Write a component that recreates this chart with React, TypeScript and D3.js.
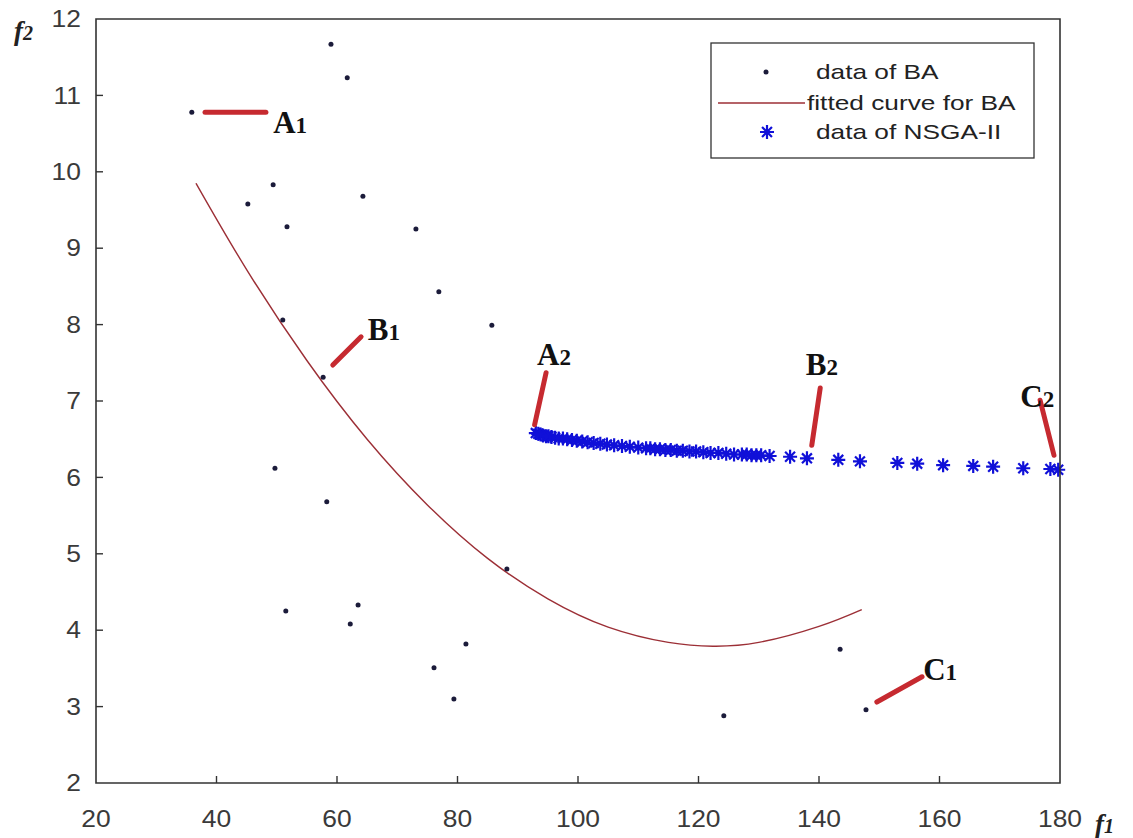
import React from "react";
import * as d3 from "d3";

// ---- Data ----
const baX = [35.9, 59.0, 61.7, 49.4, 45.2, 51.7, 64.3, 73.1, 76.9, 85.7, 51.0, 57.7, 49.7, 58.3, 88.2, 51.5, 63.5, 62.2, 81.4, 76.1, 79.4, 143.5, 147.8, 124.2];
const baY = [10.78, 11.67, 11.23, 9.83, 9.58, 9.28, 9.68, 9.25, 8.43, 7.99, 8.06, 7.31, 6.12, 5.68, 4.80, 4.25, 4.33, 4.08, 3.82, 3.51, 3.10, 3.75, 2.96, 2.88];

const curveX = [36.6, 45, 55, 65, 75, 85, 95, 105, 115, 122.4, 130, 140, 147.1];
const curveY = [9.85, 8.72, 7.53, 6.50, 5.64, 4.94, 4.41, 4.04, 3.84, 3.79, 3.84, 4.05, 4.27];

const nsgaX = [93.0, 93.4, 93.8, 94.2, 94.7, 95.1, 95.6, 96.2, 96.8, 97.5, 98.2, 99.0, 99.8, 100.7, 101.6, 102.6, 103.7, 104.8, 106.0, 107.3, 108.6, 110.0, 111.3, 112.0, 112.8, 113.6, 114.5, 115.4, 116.4, 117.4, 118.5, 119.6, 120.8, 122.0, 123.3, 124.6, 125.9, 127.2, 128.0, 128.8, 129.6, 130.4, 131.8,
  135.2, 138.0, 143.2, 146.8, 153.0, 156.3, 160.6, 165.6, 168.9, 173.9, 178.4, 179.7];
const nsgaY = [6.58, 6.57, 6.56, 6.55, 6.54, 6.54, 6.53, 6.52, 6.51, 6.51, 6.50, 6.49, 6.48, 6.47, 6.46, 6.45, 6.44, 6.43, 6.42, 6.41, 6.40, 6.39, 6.38, 6.38, 6.37, 6.37, 6.36, 6.36, 6.35, 6.35, 6.34, 6.34, 6.33, 6.32, 6.32, 6.31, 6.30, 6.30, 6.30, 6.29, 6.29, 6.29, 6.28,
  6.27, 6.25, 6.23, 6.21, 6.19, 6.18, 6.16, 6.15, 6.14, 6.12, 6.11, 6.10];

const xTicks = [20, 40, 60, 80, 100, 120, 140, 160, 180];
const yTicks = [2, 3, 4, 5, 6, 7, 8, 9, 10, 11, 12];

const annLetters = ["A", "B", "C", "A", "B", "C"];
const annSubs = ["1", "1", "1", "2", "2", "2"];
const annX1 = [38.1, 59.3, 149.6, 92.8, 138.8, 179.0];
const annY1 = [10.78, 7.47, 3.06, 6.69, 6.42, 6.29];
const annX2 = [48.2, 64.0, 157.1, 94.7, 140.2, 176.7];
const annY2 = [10.78, 7.84, 3.39, 7.37, 7.17, 7.01];
const annLX = [49.4, 65.1, 157.3, 93.2, 137.8, 173.4];
const annLY = [10.51, 7.80, 3.35, 7.47, 7.34, 6.92];

const legendLabels = ["data of BA", "fitted curve for BA", "data of NSGA-II"];

const W = 1133;
const H = 838;

function asterisk(cx: number, cy: number, r: number) {
  const d = r * Math.SQRT1_2;
  return `M${cx - r},${cy}L${cx + r},${cy}M${cx},${cy - r}L${cx},${cy + r}M${cx - d},${cy - d}L${cx + d},${cy + d}M${cx - d},${cy + d}L${cx + d},${cy - d}`;
}

export default function App() {
  const x = d3.scaleLinear().domain([20, 180]).range([96, 1060]);
  const y = d3.scaleLinear().domain([2, 12]).range([783, 19]);

  const curvePts: [number, number][] = curveX.map((v, i) => [v, curveY[i]]);
  const line = d3
    .line<[number, number]>()
    .x((d) => x(d[0]))
    .y((d) => y(d[1]))
    .curve(d3.curveNatural);

  const tickFont = "Liberation Sans, Arial, sans-serif";
  const serif = "Liberation Serif, Times New Roman, serif";
  const red = "#c62a30";
  const blue = "#1010d8";
  const curveColor = "#9c2f36";
  const dotColor = "#1b1b3a";
  const sx = 1.15;

  const x0 = x.range()[0], x1 = x.range()[1];
  const y0 = y.range()[0], y1 = y.range()[1];

  // legend box
  const lgL = 711, lgR = 1034, lgT = 43, lgB = 158;
  const rowY = [72, 103, 132];

  return (
    <svg width={W} height={H} style={{ position: "absolute", left: 0, top: 0, background: "#fff" }}>
      <rect x={0} y={0} width={W} height={H} fill="#fff" />

      {/* fitted curve */}
      <path d={line(curvePts) || ""} fill="none" stroke={curveColor} strokeWidth={1.4} />

      {/* BA dots */}
      {baX.map((v, i) => (
        <circle key={"ba" + i} cx={x(v)} cy={y(baY[i])} r={2.5} fill={dotColor} />
      ))}

      {/* NSGA-II asterisks */}
      {nsgaX.map((v, i) => (
        <path key={"ns" + i} d={asterisk(x(v), y(nsgaY[i]), 7)} stroke={blue} strokeWidth={2.2} fill="none" />
      ))}

      {/* annotations */}
      {annLetters.map((L, i) => (
        <g key={"ann" + i}>
          <line x1={x(annX1[i])} y1={y(annY1[i])} x2={x(annX2[i])} y2={y(annY2[i])} stroke={red} strokeWidth={5} strokeLinecap="round" />
          <text x={x(annLX[i])} y={y(annLY[i])} fontFamily={serif} fontWeight="bold" fontSize={31} fill="#111">
            {L}
            <tspan fontSize={23}>{annSubs[i]}</tspan>
          </text>
        </g>
      ))}

      {/* axes box */}
      <path d={`M${x0},${y1}L${x0},${y0}L${x1},${y0}L${x1},${y1}Z`} fill="none" stroke="#333" strokeWidth={1.6} />

      {/* x ticks */}
      {xTicks.map((t) => (
        <g key={"xt" + t}>
          {t !== 20 && t !== 180 && <line x1={x(t)} x2={x(t)} y1={y0} y2={y0 - 7} stroke="#333" strokeWidth={1.4} />}
          <text transform={`translate(${x(t)},827) scale(${sx},1)`} textAnchor="middle" fontFamily={tickFont} fontSize={23} fill="#3a3a3a">
            {t}
          </text>
        </g>
      ))}

      {/* y ticks */}
      {yTicks.map((t) => (
        <g key={"yt" + t}>
          {t !== 2 && t !== 12 && <line x1={x0} x2={x0 + 7} y1={y(t)} y2={y(t)} stroke="#333" strokeWidth={1.4} />}
          <text transform={`translate(81,${y(t)}) scale(${sx},1)`} dy="0.36em" textAnchor="end" fontFamily={tickFont} fontSize={23} fill="#3a3a3a">
            {t}
          </text>
        </g>
      ))}

      {/* axis labels */}
      <text x={14} y={40} fontFamily={serif} fontStyle="italic" fontWeight="bold" fontSize={27} fill="#222">
        f<tspan fontSize={20}>2</tspan>
      </text>
      <text x={1095} y={833} fontFamily={serif} fontStyle="italic" fontWeight="bold" fontSize={27} fill="#222">
        f<tspan fontSize={20}>1</tspan>
      </text>

      {/* legend */}
      <rect x={lgL} y={lgT} width={lgR - lgL} height={lgB - lgT} fill="#fff" stroke="#333" strokeWidth={1.3} />
      <circle cx={766} cy={rowY[0]} r={2.5} fill={dotColor} />
      <line x1={718} x2={805} y1={rowY[1]} y2={rowY[1]} stroke={curveColor} strokeWidth={1.4} />
      <path d={asterisk(767, rowY[2], 7)} stroke={blue} strokeWidth={2.2} fill="none" />
      {legendLabels.map((s, i) => (
        <text key={"lg" + i} transform={`translate(${i === 1 ? 807 : 816},${rowY[i]}) scale(1.25,1)`} dy="0.35em" fontFamily={tickFont} fontSize={21} fill="#222">
          {s}
        </text>
      ))}
    </svg>
  );
}
